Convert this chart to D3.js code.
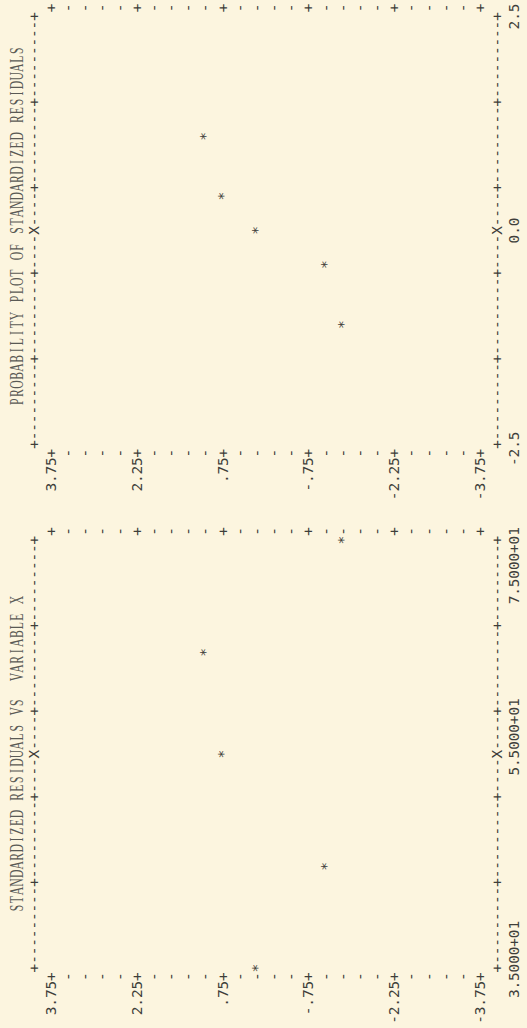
<!DOCTYPE html>
<html><head><meta charset="utf-8">
<script src="https://cdn.jsdelivr.net/npm/d3@7"></script>
<style>html,body{margin:0;padding:0;background:#fcf5df;}svg{display:block}</style>
</head><body>
<svg id="c" width="527" height="1028"></svg>
<script>
// ---------- data ----------
const residTickValues = [3.75, 2.25, 0.75, -0.75, -2.25, -3.75];
const residTickLabels = ["3.75", "2.25", ".75", "-.75", "-2.25", "-3.75"];
const xValues = [35, 44.5, 55, 64.5, 75];
const xResiduals = [0.15, -1.05, 0.75, 1.05, -1.35];
const xTickValues = [35, 55, 75];
const xTickLabels = ["3.5000+01", "5.5000+01", "7.5000+01"];
const normalScores = [1.10, 0.40, 0.00, -0.40, -1.10];
const sortedResiduals = [1.05, 0.75, 0.15, -1.05, -1.35];
const probTickValues = [-2.5, 0, 2.5];
const probTickLabels = ["-2.5", "0.0", "2.5"];
const titleLeft = "STANDARDIZED RESIDUALS VS  VARIABLE X";
const titleRight = "PROBABILITY PLOT OF STANDARDIZED RESIDUALS";

// ---------- layout (printer grid) ----------
const CW = 8.56, LH = 17.16, ROW0 = 51, NROW = 26;
const FS = 14.5, BASE = 5;
const ink = "#3e3e3a";
const svg = d3.select("#c");
svg.append("rect").attr("width",527).attr("height",1028).attr("fill","#fcf5df");
const g = svg.append("g").attr("transform","translate(0,1028) rotate(-90)");

const yScale = d3.scaleLinear().domain([3.75, -3.75]).range([ROW0, ROW0 + (NROW-1)*LH]);
const rowV = k => ROW0 + k*LH;

function panel(u0, scale, tickVals, tickLabs, labelOffsets, title, px, py) {
  const items = [];
  const put = (str, uStart, v) => Array.from(str).forEach((c,i)=>{ if (c !== " ") items.push({c, u: uStart + i*CW, v}); });
  const [d0, d1] = scale.domain();
  // frames (top and bottom)
  for (let j = 0; j <= 50; j++) {
    const c = j % 10 === 0 ? "+" : (j === 25 ? "X" : "-");
    const u = scale(d0 + j*(d1-d0)/50);
    items.push({c, u, v: rowV(-1)});
    items.push({c, u, v: rowV(NROW)});
  }
  // side borders
  for (let k = 0; k < NROW; k++) {
    const r = yScale.domain()[0] - k*0.3;
    const c = k % 5 === 0 ? "+" : "-";
    items.push({c, u: u0, v: yScale(r)});
    items.push({c, u: scale(d1) + CW, v: yScale(r)});
  }
  // residual tick labels
  residTickValues.forEach((t,i)=>{
    const s = residTickLabels[i];
    put(s, u0 - s.length*CW, yScale(t));
  });
  // horizontal axis labels
  tickVals.forEach((t,i)=> put(tickLabs[i], scale(t) + labelOffsets[i]*CW, rowV(NROW+1)));
  // points
  px.forEach((x,i)=> items.push({c:"*", u: scale(x), v: yScale(py[i])}));

  g.append("g").selectAll("text").data(items).join("text")
    .attr("x", d=>d.u).attr("y", d=>d.v + BASE)
    .attr("text-anchor","middle")
    .attr("font-family","'DejaVu Sans Mono', monospace")
    .attr("font-size", FS).attr("fill", ink)
    .text(d=>d.c);

  // title
  const startCol = 27 - Math.ceil(title.length/2);
  const tItems = Array.from(title).map((c,i)=>({c, u: u0 + (startCol+i)*CW})).filter(d=>d.c!==" ");
  g.append("g").selectAll("text").data(tItems).join("text")
    .attr("transform", d=>`translate(${d.u},${rowV(-2)+6.5}) scale(0.6,1)`)
    .attr("text-anchor","middle")
    .attr("font-family","'Liberation Serif', serif")
    .attr("font-size", 19.5).attr("fill","#5a5a55")
    .text(d=>d.c);
}

const uL = 51.4, uR = 575;
const xScale = d3.scaleLinear().domain([35, 75]).range([uL + CW, uL + 51*CW]);
const pScale = d3.scaleLinear().domain([-2.5, 2.5]).range([uR + CW, uR + 51*CW]);

panel(uL, xScale, xTickValues, xTickLabels, [-3, -2, -7], titleLeft, xValues, xResiduals);
panel(uR, pScale, probTickValues, probTickLabels, [-2, -1, -1], titleRight, normalScores, sortedResiduals);
</script>
</body></html>
